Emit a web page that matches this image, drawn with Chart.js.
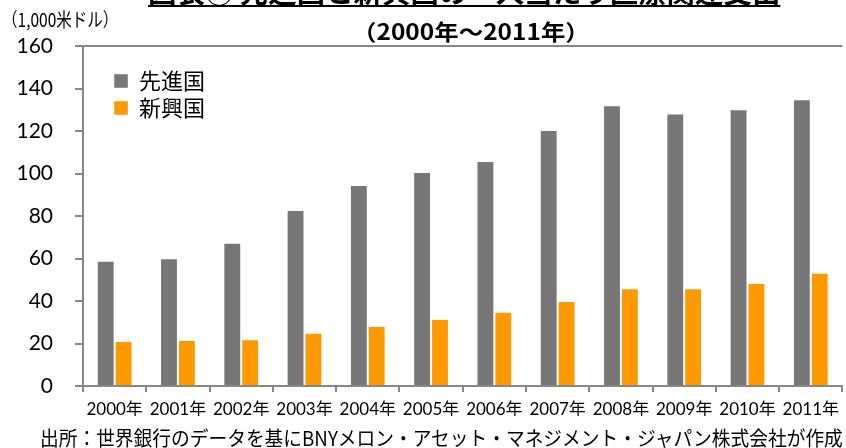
<!DOCTYPE html>
<html lang="ja">
<head>
<meta charset="utf-8">
<script src="https://cdn.jsdelivr.net/npm/chart.js@4.4.1/dist/chart.umd.min.js"></script>
<style>
  html, body { margin: 0; padding: 0; background: #fff; }
  #wrap { position: relative; width: 846px; height: 448px; overflow: hidden; }
  #wrap canvas { position: absolute; left: 0; top: 0; }
  .txt { position: absolute; white-space: nowrap; color: #000; line-height: 1; font-family: "Noto Sans CJK JP", sans-serif; transform-origin: 0 0; }
  #title1 { top: -23px; font-size: 28px; font-weight: bold; text-decoration: underline; }
  #title2 { top: 19px; font-size: 22px; font-weight: bold; }
  #unit { top: 9px; font-size: 19px; }
  #source { top: 428px; font-size: 20px; }
</style>
</head>
<body>
<div id="wrap">
  <canvas id="chart" width="846" height="448"></canvas>
  <div class="txt" id="title1">図表④ 先進国と新興国の一人当たり医療関連支出</div>
  <div class="txt" id="title2">（2000年～2011年）</div>
  <div class="txt" id="unit">（1,000米ドル）</div>
  <div class="txt" id="source">出所：世界銀行のデータを基にBNYメロン・アセット・マネジメント・ジャパン株式会社が作成</div>
</div>
<script>
// データ
const years = ['2000年','2001年','2002年','2003年','2004年','2005年','2006年','2007年','2008年','2009年','2010年','2011年'];
const advanced = [59.0, 60.1, 67.4, 82.8, 94.6, 100.7, 105.9, 120.5, 132.1, 128.2, 130.2, 134.9];
const emerging = [21.2, 21.6, 22.0, 25.1, 28.2, 31.5, 35.0, 40.0, 46.0, 46.0, 48.5, 53.3];
const seriesNames = ['先進国', '新興国'];
const yTicks = [0, 20, 40, 60, 80, 100, 120, 140, 160];

const axisColor = '#878787';

// テキストを横幅に合わせる (元画像は横長のフォント)
function fitText(id, left, width) {
  const el = document.getElementById(id);
  const w = el.offsetWidth;
  el.style.left = left + 'px';
  el.style.transform = 'scaleX(' + (width / w) + ')';
}
fitText('title1', 148, 632);
fitText('title2', 352, 238);
fitText('unit', 2, 116);
fitText('source', 40, 803);

// 凡例をプロット内に移動
const legendShift = {
  id: 'legendShift',
  afterLayout(chart) {
    chart.legend.left += 26;
    chart.legend.top += 65;
  }
};

const ctx = document.getElementById('chart');

new Chart(ctx, {
  type: 'bar',
  data: {
    labels: years,
    datasets: [{
      label: seriesNames[0],
      data: advanced,
      backgroundColor: '#777777',
      borderColor: 'rgba(255,255,255,0.45)',
      borderWidth: 1,
      categoryPercentage: 0.565,
      barPercentage: 1
    }, {
      label: seriesNames[1],
      data: emerging,
      backgroundColor: '#ff9900',
      borderColor: 'rgba(255,255,255,0.45)',
      borderWidth: 1,
      categoryPercentage: 0.565,
      barPercentage: 1
    }]
  },
  options: {
    responsive: false,
    animation: false,
    layout: { padding: { top: 46, right: 0, bottom: 32, left: 0 } },
    plugins: {
      title: { display: false },
      tooltip: { enabled: false },
      legend: {
        position: 'chartArea',
        align: 'start',
        labels: {
          boxWidth: 14,
          boxHeight: 14,
          padding: 5,
          color: '#000',
          font: { family: '"Noto Sans CJK JP", sans-serif', size: 22 }
        }
      }
    },
    scales: {
      x: {
        afterFit(scale) { scale.height = 30; },
        border: { color: axisColor, width: 2 },
        grid: { offset: true, drawOnChartArea: false, tickLength: 6, color: axisColor, lineWidth: 2 },
        ticks: {
          padding: 7,
          color: '#000',
          maxRotation: 0,
          autoSkip: false,
          font: { family: 'Lato, "Noto Sans CJK JP", sans-serif', size: 17 }
        }
      },
      y: {
        min: 0,
        max: 160,
        afterFit(scale) { scale.width = 83; },
        afterBuildTicks(scale) { scale.ticks = yTicks.map(v => ({ value: v })); },
        border: { color: axisColor, width: 2 },
        grid: {
          tickLength: 8,
          lineWidth: 2,
          tickColor: axisColor,
          color: (c) => c.tick && c.tick.value === 160 ? axisColor : 'rgba(0,0,0,0)'
        },
        ticks: {
          padding: 22,
          color: '#000',
          font: { family: 'Lato, sans-serif', size: 21 }
        }
      }
    }
  },
  plugins: [legendShift]
});
</script>
</body>
</html>
